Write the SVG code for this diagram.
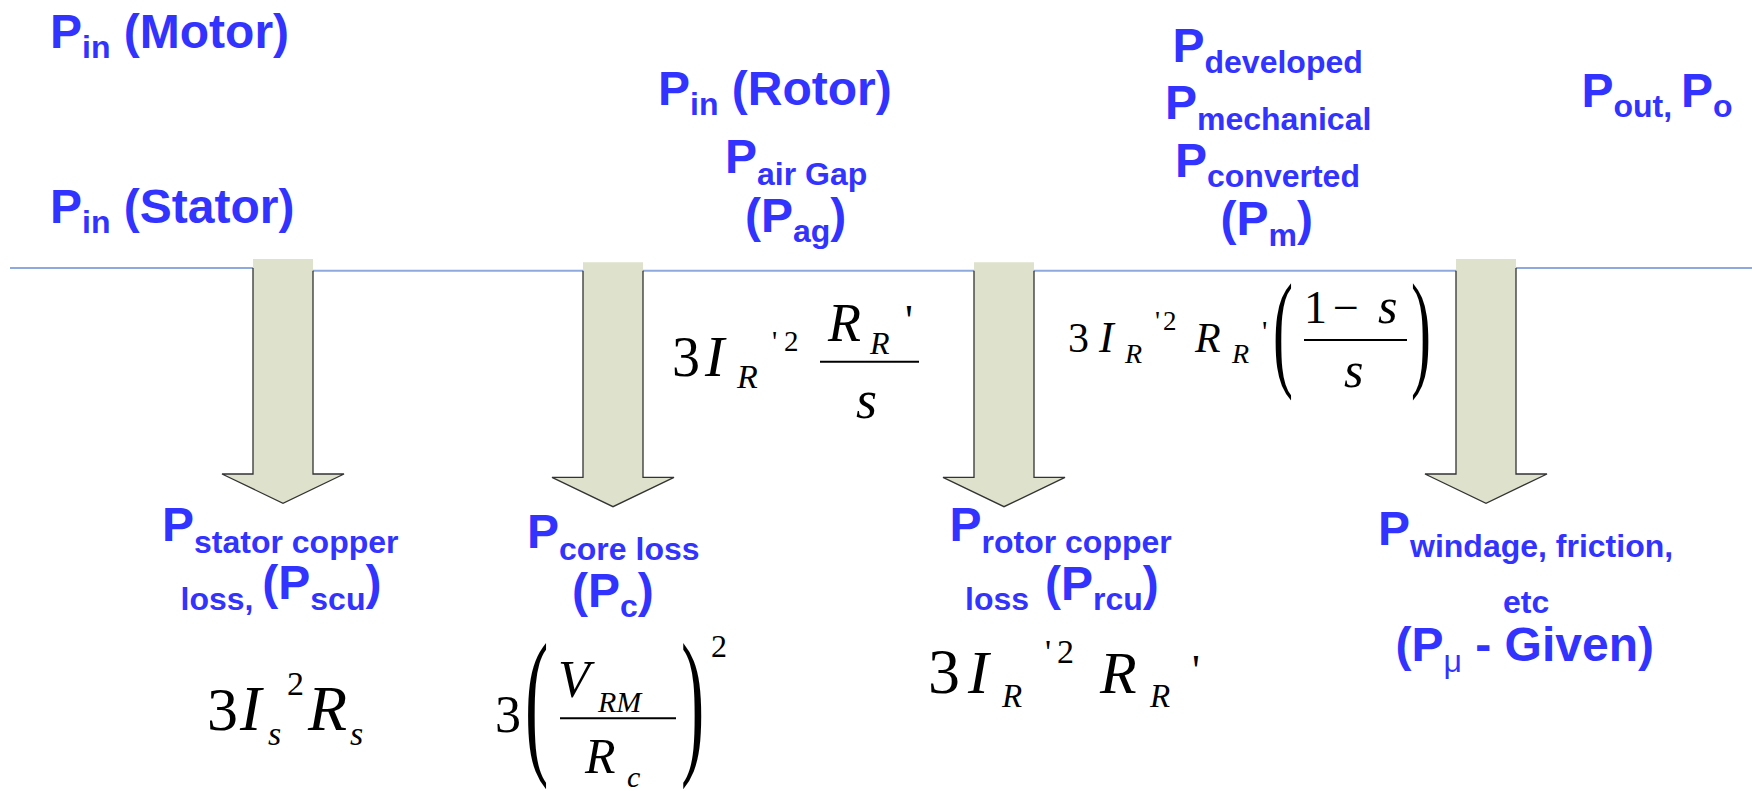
<svg xmlns="http://www.w3.org/2000/svg" width="1752" height="791" viewBox="0 0 1752 791">
<style>
.lb{font-family:"Liberation Sans",Arial,sans-serif;font-weight:bold;font-size:48px;fill:#3333ff}
.sb{font-size:32px}
.mu{font-weight:normal}
.m{font-family:"Liberation Serif","Times New Roman",serif;fill:#000}
.i{font-style:italic}
.arrow{fill:#dee2cc}
.edge{fill:none;stroke:#333;stroke-width:1.3;stroke-linejoin:miter}
.flow{fill:none;stroke:#8eaadc;stroke-width:2}
.bar{stroke:#000;stroke-width:2}
</style>
<rect width="1752" height="791" fill="#fff"/>
<g id="connectors">
<path class="flow" d="M10 268 L283 268 L283 270.7 L1486 270.7 L1486 268 L1752 268"/>
<g id="arrow-stator">
<polygon class="arrow" points="253,259 313,259 313,474 344,474 283,503.3 222,474 253,474"/>
<polyline class="edge" points="253,268 253,474 222,474 283,503.3 344,474 313,474 313,270.7"/>
</g>
<g id="arrow-core">
<polygon class="arrow" points="583,262.3 643,262.3 643,477.3 674,477.3 613,506.7 552,477.3 583,477.3"/>
<polyline class="edge" points="583,270.7 583,477.3 552,477.3 613,506.7 674,477.3 643,477.3 643,270.7"/>
</g>
<g id="arrow-rotor">
<polygon class="arrow" points="974,262.3 1034,262.3 1034,477.3 1065,477.3 1004,506.7 943,477.3 974,477.3"/>
<polyline class="edge" points="974,270.7 974,477.3 943,477.3 1004,506.7 1065,477.3 1034,477.3 1034,270.7"/>
</g>
<g id="arrow-windage">
<polygon class="arrow" points="1456,259 1516,259 1516,474 1547,474 1486,503.3 1425,474 1456,474"/>
<polyline class="edge" points="1456,270.7 1456,474 1425,474 1486,503.3 1547,474 1516,474 1516,268"/>
</g>
</g>
<g id="pin-motor"><text class="lb" x="50" y="48.3">P<tspan class="sb" dy="10">in</tspan><tspan dy="-10"> (Motor)</tspan></text></g>
<g id="pin-stator"><text class="lb" x="50" y="223.3">P<tspan class="sb" dy="10">in</tspan><tspan dy="-10"> (Stator)</tspan></text></g>
<g id="pin-rotor">
<text class="lb" x="658" y="105">P<tspan class="sb" dy="10">in</tspan><tspan dy="-10"> (Rotor)</tspan></text>
<text class="lb" x="725" y="173.3">P<tspan class="sb" dy="11.7">air Gap</tspan></text>
<text class="lb" x="745" y="231.7">(P<tspan class="sb" dy="10">ag</tspan><tspan dy="-10">)</tspan></text>
</g>
<g id="p-mech">
<text class="lb" x="1172.5" y="61.7">P<tspan class="sb" dy="11">developed</tspan></text>
<text class="lb" x="1165" y="119">P<tspan class="sb" dy="11">mechanical</tspan></text>
<text class="lb" x="1175" y="176.7">P<tspan class="sb" dy="10.6">converted</tspan></text>
<text class="lb" x="1220.5" y="235">(P<tspan class="sb" dy="10.7">m</tspan><tspan dy="-10.7">)</tspan></text>
</g>
<g id="p-out"><text class="lb" x="1581.5" y="106.7">P<tspan class="sb" dy="10">out, </tspan><tspan dy="-10">P</tspan><tspan class="sb" dy="10">o</tspan></text></g>
<g id="p-scu">
<text class="lb" x="162" y="540.7">P<tspan class="sb" dy="12">stator copper</tspan></text>
<text class="lb" x="180.5" y="610"><tspan class="sb">loss, </tspan><tspan dy="-10.7">(P</tspan><tspan class="sb" dy="10.7">scu</tspan><tspan dy="-10.7">)</tspan></text>
</g>
<g id="p-core">
<text class="lb" x="527" y="548.3">P<tspan class="sb" dy="11.7">core loss</tspan></text>
<text class="lb" x="572" y="607.3">(P<tspan class="sb" dy="9.4">c</tspan><tspan dy="-9.4">)</tspan></text>
</g>
<g id="p-rcu">
<text class="lb" x="949.5" y="540.7">P<tspan class="sb" dy="12">rotor copper</tspan></text>
<text class="lb sb" x="965" y="610">loss</text>
<text class="lb" x="1045" y="600">(P<tspan class="sb" dy="10">rcu</tspan><tspan dy="-10">)</tspan></text>
</g>
<g id="p-windage">
<text class="lb" x="1378" y="545">P<tspan class="sb" dy="11.7">windage, friction,</tspan></text>
<text class="lb sb" x="1503" y="613.3">etc</text>
<text class="lb" x="1395.5" y="660.7">(P<tspan class="sb mu" dy="11">μ</tspan><tspan dy="-11"> - Given)</tspan></text>
</g>
<g id="eq-airgap">
<text class="m" x="672" y="376" font-size="56">3</text>
<text class="m i" x="705" y="376" font-size="58">I</text>
<text class="m i" x="737" y="388.3" font-size="34">R</text>
<text class="m" x="772" y="351" font-size="29">'</text>
<text class="m" x="784" y="351" font-size="29">2</text>
<text class="m i" x="828" y="340.7" font-size="54">R</text>
<text class="m i" x="870" y="354" font-size="32">R</text>
<text class="m" x="905" y="335" font-size="44">'</text>
<line class="bar" x1="820" y1="361.7" x2="919" y2="361.7"/>
<text class="m i" x="856" y="418.3" font-size="54">s</text>
</g>
<g id="eq-converted">
<text class="m" x="1068" y="351.7" font-size="42">3</text>
<text class="m i" x="1099" y="351.7" font-size="44">I</text>
<text class="m i" x="1125" y="363.3" font-size="28">R</text>
<text class="m" x="1155" y="330" font-size="28">'</text>
<text class="m" x="1163" y="330" font-size="27">2</text>
<text class="m i" x="1195" y="351.7" font-size="42">R</text>
<text class="m i" x="1232" y="363.3" font-size="28">R</text>
<text class="m" x="1262" y="341" font-size="30">'</text>
<text class="m" transform="translate(1273,373.2) scale(1,2.17)" font-size="60">(</text>
<text class="m" x="1304" y="322.7" font-size="46">1</text>
<text class="m" x="1333" y="322.7" font-size="46">−</text>
<text class="m i" x="1378" y="323.3" font-size="50">s</text>
<line class="bar" x1="1304" y1="340" x2="1407" y2="340"/>
<text class="m i" x="1344" y="387.3" font-size="50">s</text>
<text class="m" transform="translate(1411,373.2) scale(1,2.17)" font-size="60">)</text>
</g>
<g id="eq-scu">
<text class="m" x="207" y="730" font-size="62">3</text>
<text class="m i" x="240" y="730" font-size="64">I</text>
<text class="m i" x="268" y="745" font-size="34">s</text>
<text class="m" x="287" y="695" font-size="34">2</text>
<text class="m i" x="308" y="730" font-size="64">R</text>
<text class="m i" x="350" y="745" font-size="34">s</text>
</g>
<g id="eq-core">
<text class="m" x="495" y="731.7" font-size="52">3</text>
<text class="m" transform="translate(525,755) scale(1,2.3)" font-size="70">(</text>
<text class="m i" x="558" y="696.7" font-size="52">V</text>
<text class="m i" x="598" y="711.7" font-size="30">RM</text>
<line class="bar" x1="560" y1="718.3" x2="676" y2="718.3"/>
<text class="m i" x="585" y="773.3" font-size="50">R</text>
<text class="m i" x="627" y="786.7" font-size="30">c</text>
<text class="m" transform="translate(681,755) scale(1,2.3)" font-size="70">)</text>
<text class="m" x="711" y="657" font-size="32">2</text>
</g>
<g id="eq-rcu">
<text class="m" x="928" y="692.7" font-size="64">3</text>
<text class="m i" x="968" y="692.7" font-size="62">I</text>
<text class="m i" x="1002" y="706.7" font-size="33">R</text>
<text class="m" x="1045" y="663.3" font-size="34">'</text>
<text class="m" x="1057" y="663.3" font-size="34">2</text>
<text class="m i" x="1100" y="692.7" font-size="60">R</text>
<text class="m i" x="1150" y="706.7" font-size="33">R</text>
<text class="m" x="1192" y="684.7" font-size="44">'</text>
</g>
</svg>
